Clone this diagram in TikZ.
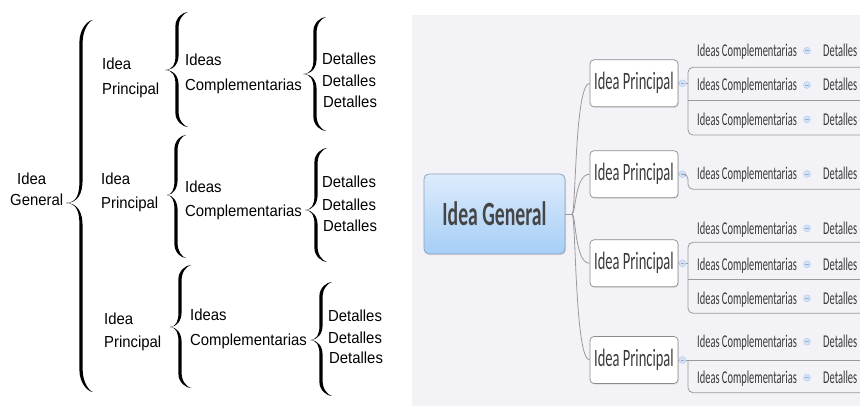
\documentclass[tikz,border=0pt]{standalone}
\usepackage{fontspec}
\setmainfont{Liberation Sans}
\newfontfamily\lsfont[FakeStretch=0.93]{Liberation Sans}
\newfontfamily\xmfont[FakeStretch=0.58]{Carlito}
\usetikzlibrary{shadows}
\definecolor{bggray}{HTML}{F3F2F7}
\definecolor{linegray}{HTML}{9A9A9E}
\definecolor{boxgray}{HTML}{8C8C8C}
\definecolor{txtgray}{HTML}{3A3A3A}
\definecolor{gentxt}{HTML}{454545}
\definecolor{gentop}{HTML}{DDECFC}
\definecolor{genbot}{HTML}{A6CEF6}
\definecolor{genborder}{HTML}{8DA3BB}
\definecolor{btnfill}{HTML}{D3E2F6}
\definecolor{btndraw}{HTML}{B2C9EA}
\definecolor{btnline}{HTML}{8FAEDD}
\newcommand\cbrace[7]{%
 \fill[black] (#1,#5) .. controls ({#2-4},{#5-0.5}) and ({#2-1.6},{#5-#7*0.4}) .. ({#2-1.6},{#5-#7})
 -- ({#2-1.6},{#4+#7})
 .. controls ({#2-1.6},{#4+#7*0.4}) and ({#3-5},{#4}) .. (#3,#4)
 .. controls ({#3-4},{#4+1}) and ({#2+1.6},{#4+#7*0.4+1}) .. ({#2+1.6},{#4+#7+1})
 -- ({#2+1.6},{#5-#7-1})
 .. controls ({#2+1.6},{#5-#7*0.4-1}) and ({#2-3},{#5}) .. (#1,#5) -- cycle;
 \fill[black] (#1,#5) .. controls ({#2-4},{#5+0.5}) and ({#2-1.6},{#5+#7*0.4}) .. ({#2-1.6},{#5+#7})
 -- ({#2-1.6},{#6-#7})
 .. controls ({#2-1.6},{#6-#7*0.4}) and ({#3-5},{#6}) .. (#3,#6)
 .. controls ({#3-4},{#6-1}) and ({#2+1.6},{#6-#7*0.4-1}) .. ({#2+1.6},{#6-#7-1})
 -- ({#2+1.6},{#5+#7+1})
 .. controls ({#2+1.6},{#5+#7*0.4+1}) and ({#2-3},{#5}) .. (#1,#5) -- cycle;
}
\begin{document}
\begin{tikzpicture}[x=1pt,y=-1pt,
  lt/.style={font=\lsfont\fontsize{16}{18}\selectfont, inner sep=0pt, anchor=base west, text=black},
  conn/.style={draw=linegray, line width=0.8pt},
  genbox/.style={draw=genborder, line width=0.8pt, top color=gentop, bottom color=genbot,
     rounded corners=5pt, minimum width=141pt, minimum height=80pt, inner sep=0pt,
     font=\xmfont\bfseries\fontsize{34}{36}\selectfont, text=gentxt,
     drop shadow={shadow xshift=1pt, shadow yshift=-1.2pt, opacity=0.25}},
  ptbox/.style={draw=boxgray, line width=0.7pt, fill=white, rounded corners=4pt,
     minimum width=88pt, minimum height=47pt, inner sep=0pt,
     font=\xmfont\fontsize{25}{28}\selectfont, text=txtgray,
     drop shadow={shadow xshift=0.8pt, shadow yshift=-1pt, opacity=0.2}},
  colbtn/.style={circle, fill=btnfill, draw=btndraw, line width=0.4pt, minimum size=7pt, inner sep=0pt,
     path picture={\draw[btnline, line width=0.6pt] ([xshift=-1.8pt]path picture bounding box.center) -- ([xshift=1.8pt]path picture bounding box.center);}},
  rowt/.style={font=\xmfont\fontsize{18}{20}\selectfont, text=txtgray, inner sep=0pt, anchor=base west}
]
\useasboundingbox (0,0) rectangle (860,406);
\fill[white] (0,0) rectangle (860,406);
\fill[bggray] (412,15) rectangle (860,406);

% ---------------- left: brace diagram ----------------
\node[lt] (lidea) at (17,185) {Idea};
\node[lt] (lgen) at (10,206) {General};
\cbrace{66}{81}{93}{20}{203}{392}{22}

% group 1
\node[lt] (a1) at (102,70) {Idea};
\node[lt] (a2) at (102,95) {Principal};
\cbrace{165}{177}{188}{12}{70}{127}{14}
\node[lt] (a3) at (185,66) {Ideas};
\node[lt] (a4) at (185,90.5) {Complementarias};
\cbrace{303}{315}{326}{17}{74}{131}{14}
\node[lt] (a5) at (322,65) {Detalles};
\node[lt] (a6) at (322,87) {Detalles};
\node[lt] (a7) at (323,108) {Detalles};

% group 2
\node[lt] (b1) at (101,185) {Idea};
\node[lt] (b2) at (101,209) {Principal};
\cbrace{167}{176}{186}{135}{195}{258}{14}
\node[lt] (b3) at (185,193) {Ideas};
\node[lt] (b4) at (185,216.5) {Complementarias};
\cbrace{305}{316}{327}{148}{210}{262}{14}
\node[lt] (b5) at (322,188) {Detalles};
\node[lt] (b6) at (322,210.5) {Detalles};
\node[lt] (b7) at (323,232) {Detalles};

% group 3
\node[lt] (g1) at (104,324) {Idea};
\node[lt] (g2) at (104,348) {Principal};
\cbrace{170}{180}{191}{265}{327}{388}{14}
\node[lt] (g3) at (190,320) {Ideas};
\node[lt] (g4) at (190,345) {Complementarias};
\cbrace{310}{321}{332}{282}{340}{396}{14}
\node[lt] (g5) at (328,321.5) {Detalles};
\node[lt] (g6) at (328,343) {Detalles};
\node[lt] (g7) at (329,363) {Detalles};

% ---------------- right: mind map ----------------
\node[genbox] (ig) at (494.5,214) {Idea General};
\node[ptbox] (p1) at (634,83.3) {Idea Principal};
\node[ptbox] (p2) at (634,174.2) {Idea Principal};
\node[ptbox] (p3) at (634,263.3) {Idea Principal};
\node[ptbox] (p4) at (634,360) {Idea Principal};

\coordinate (j) at (572,214);
\draw[conn] (ig.east) -- (j);
\foreach \p in {p1,p2,p3,p4}
  \draw[conn] (j) .. controls +(4,0) and +(-15,0) .. (\p.west);

\node[colbtn] (c1) at (682.5,83.3) {};
\node[colbtn] (c2) at (682.5,174.2) {};
\node[colbtn] (c3) at (682.5,263.3) {};
\node[colbtn] (c4) at (682.5,360) {};
\foreach \i in {1,2,3,4}
  \draw[conn] (p\i.east) -- (c\i.west);

% rows: name / text y / underline y
\foreach \n/\y/\u in {11/50.7/67.3, 12/85/100, 13/119.3/135,
                      21/174/189.3,
                      31/228.3/242.3, 32/264.3/279.3, 33/298.3/313.3,
                      41/341.7/360, 42/377.7/392.7} {
  \node[rowt] (r\n) at ({697},{\y+6}) {Ideas Complementarias};
  \node[colbtn] (bb\n) at ({807},{\y}) {};
  \node[rowt] (d\n) at ({823},{\y+6}) {Detalles};
  \coordinate (e\n) at ({860},{\u});
  \coordinate (k\n) at ({688},{\u});
}

% group 1 bracket
\coordinate (s1) at (688,83.3);
\draw[conn] (c1.east) -- (s1);
\draw[conn, rounded corners=5pt] (e11) -- (k11) -- (k13) -- (e13);
\draw[conn] (k12) -- (e12);
% group 2
\coordinate (s2) at (688,174.2);
\draw[conn, rounded corners=5pt] (c2.east) -- (s2) -- (k21) -- (e21);
% group 3
\coordinate (s3) at (688,263.3);
\draw[conn] (c3.east) -- (s3);
\draw[conn, rounded corners=5pt] (e31) -- (k31) -- (k33) -- (e33);
\draw[conn] (k32) -- (e32);
% group 4
\draw[conn] (c4.east) -- (e41);
\draw[conn, rounded corners=5pt] (k41) -- (k42) -- (e42);
\end{tikzpicture}
\end{document}
